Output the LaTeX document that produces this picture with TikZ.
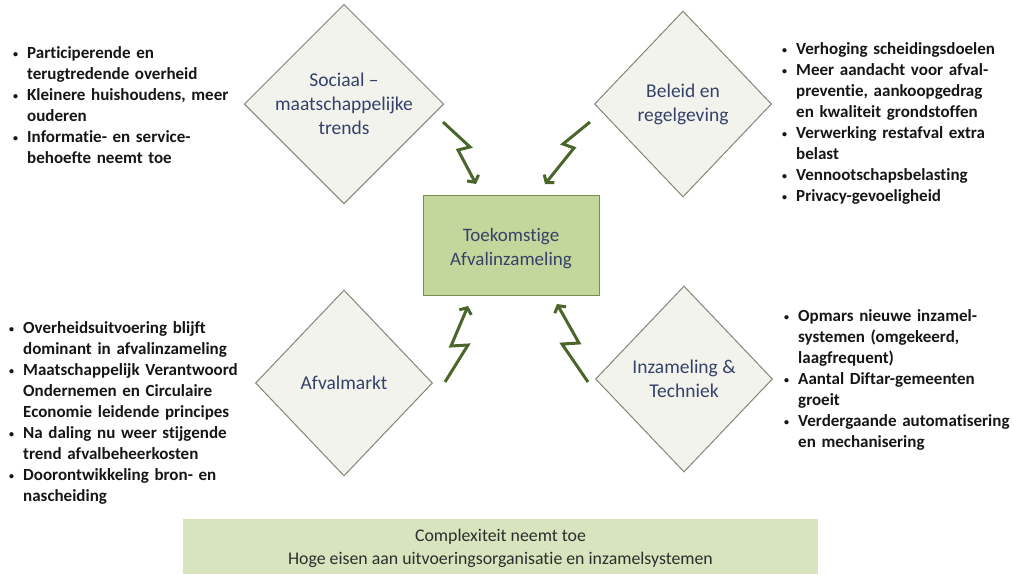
\documentclass[tikz,border=0pt]{standalone}
\usepackage{fontspec}
\setmainfont{Carlito}[Ligatures=NoCommon]
\usetikzlibrary{shapes.geometric,arrows.meta,calc}
\definecolor{dtext}{RGB}{52,66,104}
\definecolor{dfill}{RGB}{243,243,238}
\definecolor{dline}{RGB}{125,138,118}
\definecolor{boxfill}{RGB}{195,214,155}
\definecolor{boxline}{RGB}{122,140,92}
\definecolor{botfill}{RGB}{215,228,189}
\definecolor{arr}{RGB}{74,102,42}
\definecolor{ltext}{RGB}{22,22,22}
\newcommand{\bitem}[1]{\par\hangindent=14pt\hangafter=1\noindent\makebox[14pt][l]{\raisebox{1.5pt}{\fontsize{10}{10}\selectfont\textbullet}}#1\par}
\begin{document}
\begin{tikzpicture}[x=1pt,y=-1pt,
  factor/.style={diamond, draw=dline, fill=dfill, line width=1pt, minimum width=177pt, minimum height=186pt, inner sep=0pt, align=center, text=dtext, font=\fontsize{19.5}{24}\selectfont},
  bolt/.style={draw=arr, line width=3pt, -{Straight Barb[length=5pt,width=13pt]}},
  listtext/.style={anchor=north west, align=left, text=ltext, inner sep=0pt, text width=240pt, font=\bfseries\fontsize{17}{21}\selectfont},
]
\useasboundingbox (0,0) rectangle (1014,574);

% factors
\node[factor] (soc) at (344,104) {Sociaal --\\maatschappelijke\\trends};
\node[factor] (bel) at (683,104) {Beleid en\\regelgeving};
\node[factor] (mkt) at (344,383) {Afvalmarkt};
\node[factor] (inz) at (684,379) {Inzameling \&\\Techniek};

% central box
\node[draw=boxline, fill=boxfill, line width=1pt, minimum width=176pt, minimum height=100pt, align=center, text=dtext, font=\fontsize{19}{24}\selectfont] (box) at (511,245) {\rule{0pt}{20pt}Toekomstige\\Afvalinzameling};

% bottom box
\node[fill=botfill, minimum width=635pt, minimum height=55pt, align=center, text={rgb,255:red,45;green,45;blue,45}, font=\fontsize{17.8}{23}\selectfont] (bot) at (500.5,546.5) {\rule{0pt}{16pt}Complexiteit neemt toe\\Hoge eisen aan uitvoeringsorganisatie en inzamelsystemen};

% bolts
\coordinate (s1) at (443,122); \coordinate (a1) at (470,147); \coordinate (b1) at (458,150); \coordinate (e1) at (476,184);
\coordinate (s2) at (590,122); \coordinate (a2) at (563,144); \coordinate (b2) at (574,148); \coordinate (e2) at (545,184);
\coordinate (s3) at (445,382); \coordinate (a3) at (468,345); \coordinate (b3) at (451,346); \coordinate (e3) at (468,306);
\coordinate (s4) at (588,382); \coordinate (a4) at (562,344); \coordinate (b4) at (579,343); \coordinate (e4) at (557,304);
\draw[bolt] (s1) -- (a1) -- (b1) -- (e1);
\draw[bolt] (s2) -- (a2) -- (b2) -- (e2);
\draw[bolt] (s3) -- (a3) -- (b3) -- (e3);
\draw[bolt] (s4) -- (a4) -- (b4) -- (e4);

% lists
\node[listtext] (l1) at (13,37.5) {%
\bitem{Participerende en\newline terugtredende overheid}
\bitem{Kleinere huishoudens, meer\newline ouderen}
\bitem{Informatie- en service-\newline behoefte neemt toe}};
\node[listtext] (l2) at (782,33.5) {%
\bitem{Verhoging scheidingsdoelen}
\bitem{Meer aandacht voor afval-\newline preventie, aankoopgedrag\newline en kwaliteit grondstoffen}
\bitem{Verwerking restafval extra\newline belast}
\bitem{Vennootschapsbelasting}
\bitem{Privacy-gevoeligheid}};
\node[listtext] (l3) at (9,312.5) {%
\bitem{Overheidsuitvoering blijft\newline dominant in afvalinzameling}
\bitem{Maatschappelijk Verantwoord\newline Ondernemen en Circulaire\newline Economie leidende principes}
\bitem{Na daling nu weer stijgende\newline trend afvalbeheerkosten}
\bitem{Doorontwikkeling bron- en\newline nascheiding}};
\node[listtext] (l4) at (784,300.5) {%
\bitem{Opmars nieuwe inzamel-\newline systemen (omgekeerd,\newline laagfrequent)}
\bitem{Aantal Diftar-gemeenten\newline groeit}
\bitem{Verdergaande automatisering\newline en mechanisering}};
\end{tikzpicture}
\end{document}
